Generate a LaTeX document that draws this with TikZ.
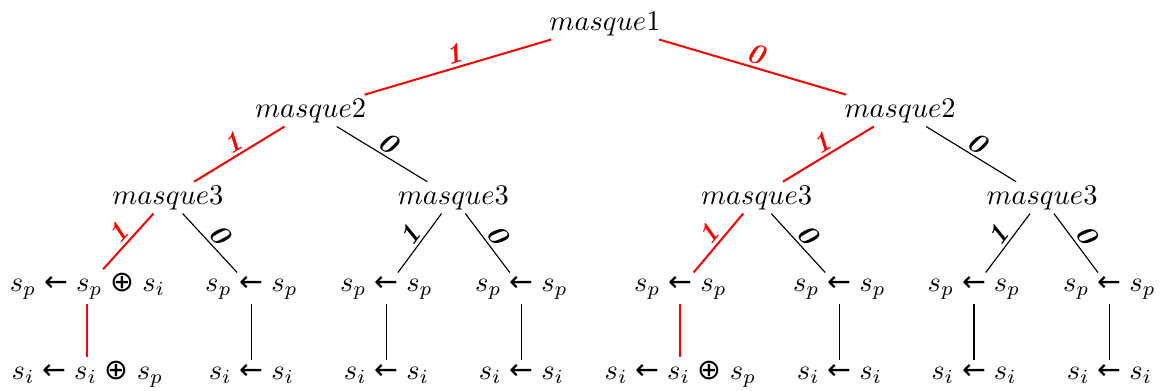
\documentclass[tikz,border=0pt]{standalone}
\usepackage{amsmath,amssymb}
\usepackage{fontspec}
\newfontfamily\symfont{DejaVu Sans}
\newcommand{\fl}{\mathrel{\text{\symfont ←}}}
\newcommand{\ou}{\mathrel{\text{\symfont ⊕}}}
\usepackage{tikz}

\begin{document}
\begin{tikzpicture}[thin,
    nd/.style={anchor=base, inner sep=1.2pt},
    lbl/.style={sloped, above, font=\bfseries\itshape, inner sep=1pt},
    hot/.style={red, line width=0.7pt}]
    \useasboundingbox (-7.461, 0.370) rectangle (6.857, -4.440);

    % 各层掩码
    \node[nd] (m1) at (0, 0) {$masque1$};
    \node[nd] (m2g) at (-3.63, -1.073) {$masque2$};
    \node[nd] (m2d) at (3.64, -1.073) {$masque2$};
    \node[nd] (m3gg) at (-5.39, -2.146) {$masque3$};
    \node[nd] (m3gd) at (-1.87, -2.146) {$masque3$};
    \node[nd] (m3dg) at (1.87, -2.146) {$masque3$};
    \node[nd] (m3dd) at (5.39, -2.146) {$masque3$};

    % 叶子: s_p 的更新
    \node[nd] (p1) at (-6.382, -3.225) {$s_p \fl s_p \ou s_i$};
    \node[nd] (p2) at (-4.359, -3.225) {$s_p \fl s_p$};
    \node[nd] (p3) at (-2.695, -3.225) {$s_p \fl s_p$};
    \node[nd] (p4) at (-1.030, -3.225) {$s_p \fl s_p$};
    \node[nd] (p5) at (0.931, -3.225) {$s_p \fl s_p$};
    \node[nd] (p6) at (2.892, -3.225) {$s_p \fl s_p$};
    \node[nd] (p7) at (4.551, -3.225) {$s_p \fl s_p$};
    \node[nd] (p8) at (6.222, -3.225) {$s_p \fl s_p$};

    % 叶子: s_i 的更新
    \node[nd] (i1) at (-6.382, -4.310) {$s_i \fl s_i \ou s_p$};
    \node[nd] (i2) at (-4.359, -4.310) {$s_i \fl s_i$};
    \node[nd] (i3) at (-2.695, -4.310) {$s_i \fl s_i$};
    \node[nd] (i4) at (-1.030, -4.310) {$s_i \fl s_i$};
    \node[nd] (i5) at (0.931, -4.310) {$s_i \fl s_i \ou s_p$};
    \node[nd] (i6) at (2.892, -4.310) {$s_i \fl s_i$};
    \node[nd] (i7) at (4.551, -4.310) {$s_i \fl s_i$};
    \node[nd] (i8) at (6.222, -4.310) {$s_i \fl s_i$};

    % 选中的路径 (红色)
    \draw[hot] (m1) -- node[lbl] {1} (m2g);
    \draw[hot] (m1) -- node[lbl] {0} (m2d);
    \draw[hot] (m2g) -- node[lbl] {1} (m3gg);
    \draw[hot] (m2d) -- node[lbl] {1} (m3dg);
    \draw[hot] (m3gg) -- node[lbl] {1} (p1);
    \draw[hot] (m3dg) -- node[lbl] {1} (p5);
    \draw[hot] (p1) -- (i1);
    \draw[hot] (p5) -- (i5);

    % 其余分支
    \draw (m2g) -- node[lbl] {0} (m3gd);
    \draw (m2d) -- node[lbl] {0} (m3dd);
    \draw (m3gg) -- node[lbl] {0} (p2);
    \draw (m3gd) -- node[lbl] {1} (p3);
    \draw (m3gd) -- node[lbl] {0} (p4);
    \draw (m3dg) -- node[lbl] {0} (p6);
    \draw (m3dd) -- node[lbl] {1} (p7);
    \draw (m3dd) -- node[lbl] {0} (p8);
    \draw (p2) -- (i2);
    \draw (p3) -- (i3);
    \draw (p4) -- (i4);
    \draw (p6) -- (i6);
    \draw (p7) -- (i7);
    \draw (p8) -- (i8);
\end{tikzpicture}
\end{document}
